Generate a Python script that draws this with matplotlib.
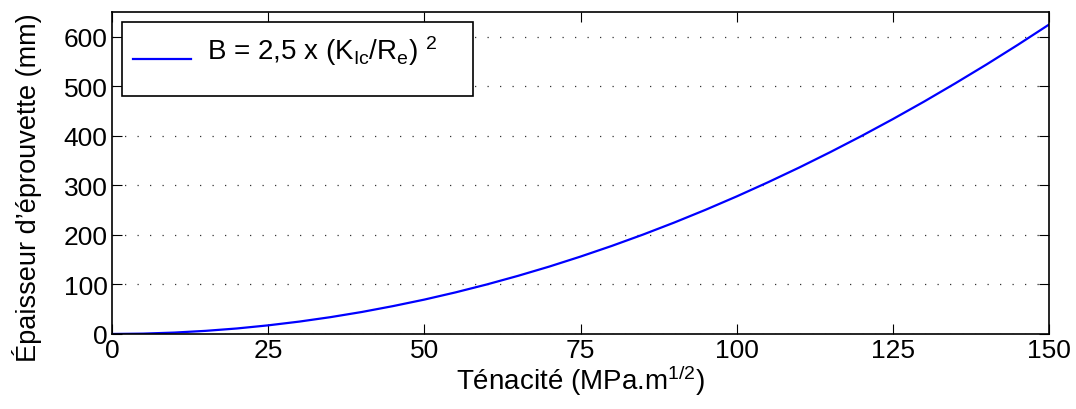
import numpy as np
import matplotlib.pyplot as plt

plt.rcParams['font.family'] = ['Liberation Sans', 'DejaVu Sans']
plt.rcParams['mathtext.fontset'] = 'custom'
plt.rcParams['mathtext.rm'] = 'Liberation Sans'
plt.rcParams['mathtext.it'] = 'Liberation Sans'

# tenacite (MPa.m^1/2) et epaisseur (mm)
kic = [0, 5, 10, 15, 20, 25, 30, 35, 40, 45, 50, 55, 60, 65, 70, 75,
       80, 85, 90, 95, 100, 105, 110, 115, 120, 125, 130, 135, 140, 145, 150]
epaisseur = [0, 0.7, 2.8, 6.3, 11.1, 17.4, 25, 34, 44.4, 56.3, 69.4, 84, 100,
             117.4, 136.1, 156.3, 177.8, 200.7, 225, 250.7, 277.8, 306.3,
             336.1, 367.4, 400, 434, 469.4, 506.3, 544.4, 584, 625]
xticks = [0, 25, 50, 75, 100, 125, 150]
yticks = [0, 100, 200, 300, 400, 500, 600]

fig = plt.figure(figsize=(10.76, 4.10), dpi=100)
ax = fig.add_axes([0.104, 0.183, 0.871, 0.785])
ax.plot(kic, epaisseur, color=(0, 0, 1), lw=1.6,
        label=r'B = 2,5 x (K$_{\mathrm{Ic}}$/R$_{\mathrm{e}}$) $^{2}$' + '    \n ')

ax.set_xlim(0, 150)
ax.set_ylim(0, 650)
ax.set_xticks(xticks)
ax.set_yticks(yticks)
ax.tick_params(direction='in', top=True, right=True, length=7, labelsize=19, pad=3)
ax.yaxis.grid(True, linestyle=(0, (1, 9)), color='#333333', lw=0.9)
for s in ax.spines.values():
    s.set_linewidth(1.2)

ax.set_xlabel('Ténacité (MPa.m$^{1/2}$)', fontsize=20, labelpad=0)
ax.set_ylabel('Épaisseur d’éprouvette (mm)', fontsize=19.5)
ax.yaxis.set_label_coords(-0.075, 0.457)

leg = ax.legend(loc='upper left', bbox_to_anchor=(0.0107, 0.969), borderaxespad=0,
                fancybox=False, edgecolor='k', framealpha=1, fontsize=20,
                handlelength=2.1, handletextpad=0.55, borderpad=0.4,
                labelspacing=0)
leg.get_frame().set_linewidth(1.2)
leg.get_texts()[0].set_linespacing(0.6)

fig.savefig('out.png', dpi=100)
